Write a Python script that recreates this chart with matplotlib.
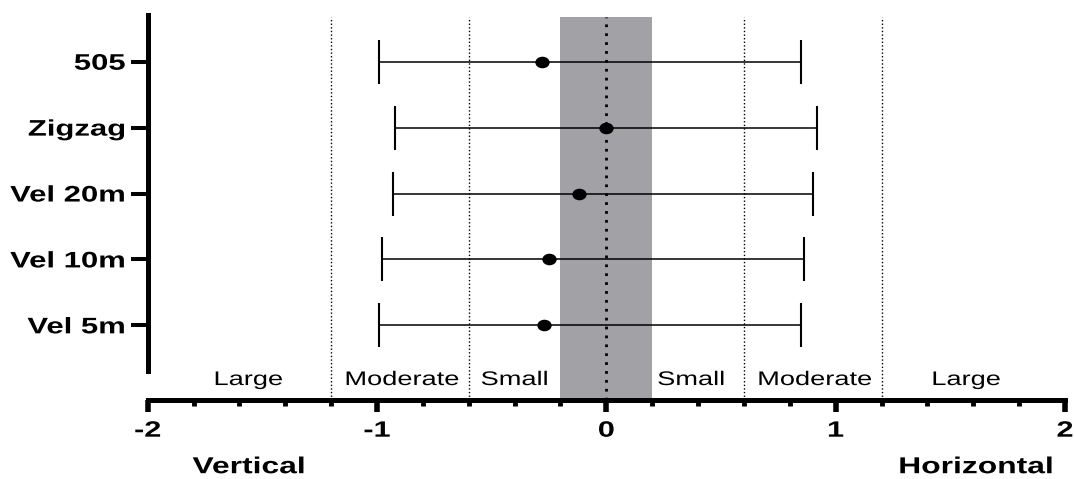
import matplotlib
matplotlib.use('Agg')
import matplotlib.pyplot as plt
import numpy as np
from matplotlib.path import Path
from matplotlib.patheffects import AbstractPathEffect
from matplotlib.transforms import Affine2D
from matplotlib.ticker import MultipleLocator

# ---------------- data ----------------
categories = ['Vel 5m', 'Vel 10m', 'Vel 20m', 'Zigzag', '505']
effect = [-0.27, -0.25, -0.12, 0.0, -0.28]
ci_low = [-0.99, -0.98, -0.93, -0.92, -0.99]
ci_high = [0.85, 0.86, 0.90, 0.92, 0.85]
x_ticks = [-2, -1, 0, 1, 2]
x_tick_labels = ['-2', '-1', '0', '1', '2']
thresholds = [-1.2, -0.6, 0.6, 1.2]
trivial_band = [-0.2, 0.2]
zone_labels = ['Large', 'Moderate', 'Small', 'Small', 'Moderate', 'Large']
side_labels = ['Vertical', 'Horizontal']

plt.rcParams['font.family'] = ['Liberation Sans', 'DejaVu Sans']
plt.rcParams['axes.unicode_minus'] = False


class Stretch(AbstractPathEffect):
    """Draw text glyphs horizontally widened around an anchor."""
    def __init__(self, sx=1.37, anchor='center'):
        super().__init__()
        self.sx = sx
        self.anchor = anchor

    def draw_path(self, renderer, gc, tpath, affine, rgbFace=None):
        ext = tpath.get_extents()
        if self.anchor == 'right':
            px = ext.x1
        elif self.anchor == 'left':
            px = ext.x0
        else:
            px = 0.5 * (ext.x0 + ext.x1)
        t = Affine2D().translate(-px, 0).scale(self.sx, 1).translate(px, 0) + affine
        renderer.draw_path(gc, tpath, t, rgbFace)


SX = 1.38

fig = plt.figure(figsize=(10.74, 4.79), dpi=100)
ax = fig.add_axes([0.13752, 0.16493, 0.85410, 0.80021])

y = np.arange(1, len(categories) + 1)
eff = np.array(effect)
lo = np.array(ci_low)
hi = np.array(ci_high)

ax.axvspan(trivial_band[0], trivial_band[1], color='#a2a1a6', lw=0, zorder=0)
for t in thresholds:
    ax.axvline(t, color='black', lw=1.0, ls=(0, (1, 1.6)), zorder=1)
ax.axvline(0, color='black', lw=2.0, ls=(0, (1, 2.2)), zorder=2)

ax.errorbar(eff, y, xerr=[eff - lo, hi - eff], fmt='none', ecolor='black',
            elinewidth=1.1, capsize=15.8, capthick=1.5, zorder=3)

circ = Path.unit_circle()
ellipse = Path(circ.vertices * np.array([1.27, 1.0]), circ.codes)
ax.plot(eff, y, ls='none', marker=ellipse, ms=9.3, color='black', zorder=4)

ax.set_xlim(-2, 2)
ax.set_ylim(-0.133, 5.683)

for s in ['top', 'right']:
    ax.spines[s].set_visible(False)
ax.spines['left'].set_bounds(0.311, 5.71)
ax.spines['left'].set_linewidth(3.6)
ax.spines['bottom'].set_bounds(-2, 2)
ax.spines['bottom'].set_linewidth(3.6)

ax.set_yticks(y, labels=categories)
ax.tick_params(axis='y', length=12.5, width=2.9, pad=3.6, labelsize=16.2)
ax.set_xticks(x_ticks, labels=x_tick_labels)
ax.xaxis.set_minor_locator(MultipleLocator(0.2))
ax.tick_params(axis='x', which='major', length=8.6, width=4, pad=6.3, labelsize=16)
ax.tick_params(axis='x', which='minor', length=4.1, width=3.5)

for lab in ax.get_yticklabels():
    lab.set_fontweight('bold')
    lab.set_path_effects([Stretch(SX, 'right')])
for lab in ax.get_xticklabels():
    lab.set_fontweight('bold')
    lab.set_path_effects([Stretch(SX, 'center')])

zone_x = [-1.56, -0.89, -0.40, 0.37, 0.91, 1.57]
for zx, zl in zip(zone_x, zone_labels):
    ax.text(zx, 0.094, zl, ha='center', va='baseline', fontsize=14.2,
            path_effects=[Stretch(SX, 'center')])

side_x = [-1.56, 1.61]
for sx_, sl in zip(side_x, side_labels):
    ax.text(sx_, -0.191, sl, transform=ax.get_xaxis_transform(), ha='center',
            va='baseline', fontsize=16.6, fontweight='bold',
            path_effects=[Stretch(SX, 'center')])

fig.savefig('out.png', dpi=100)
